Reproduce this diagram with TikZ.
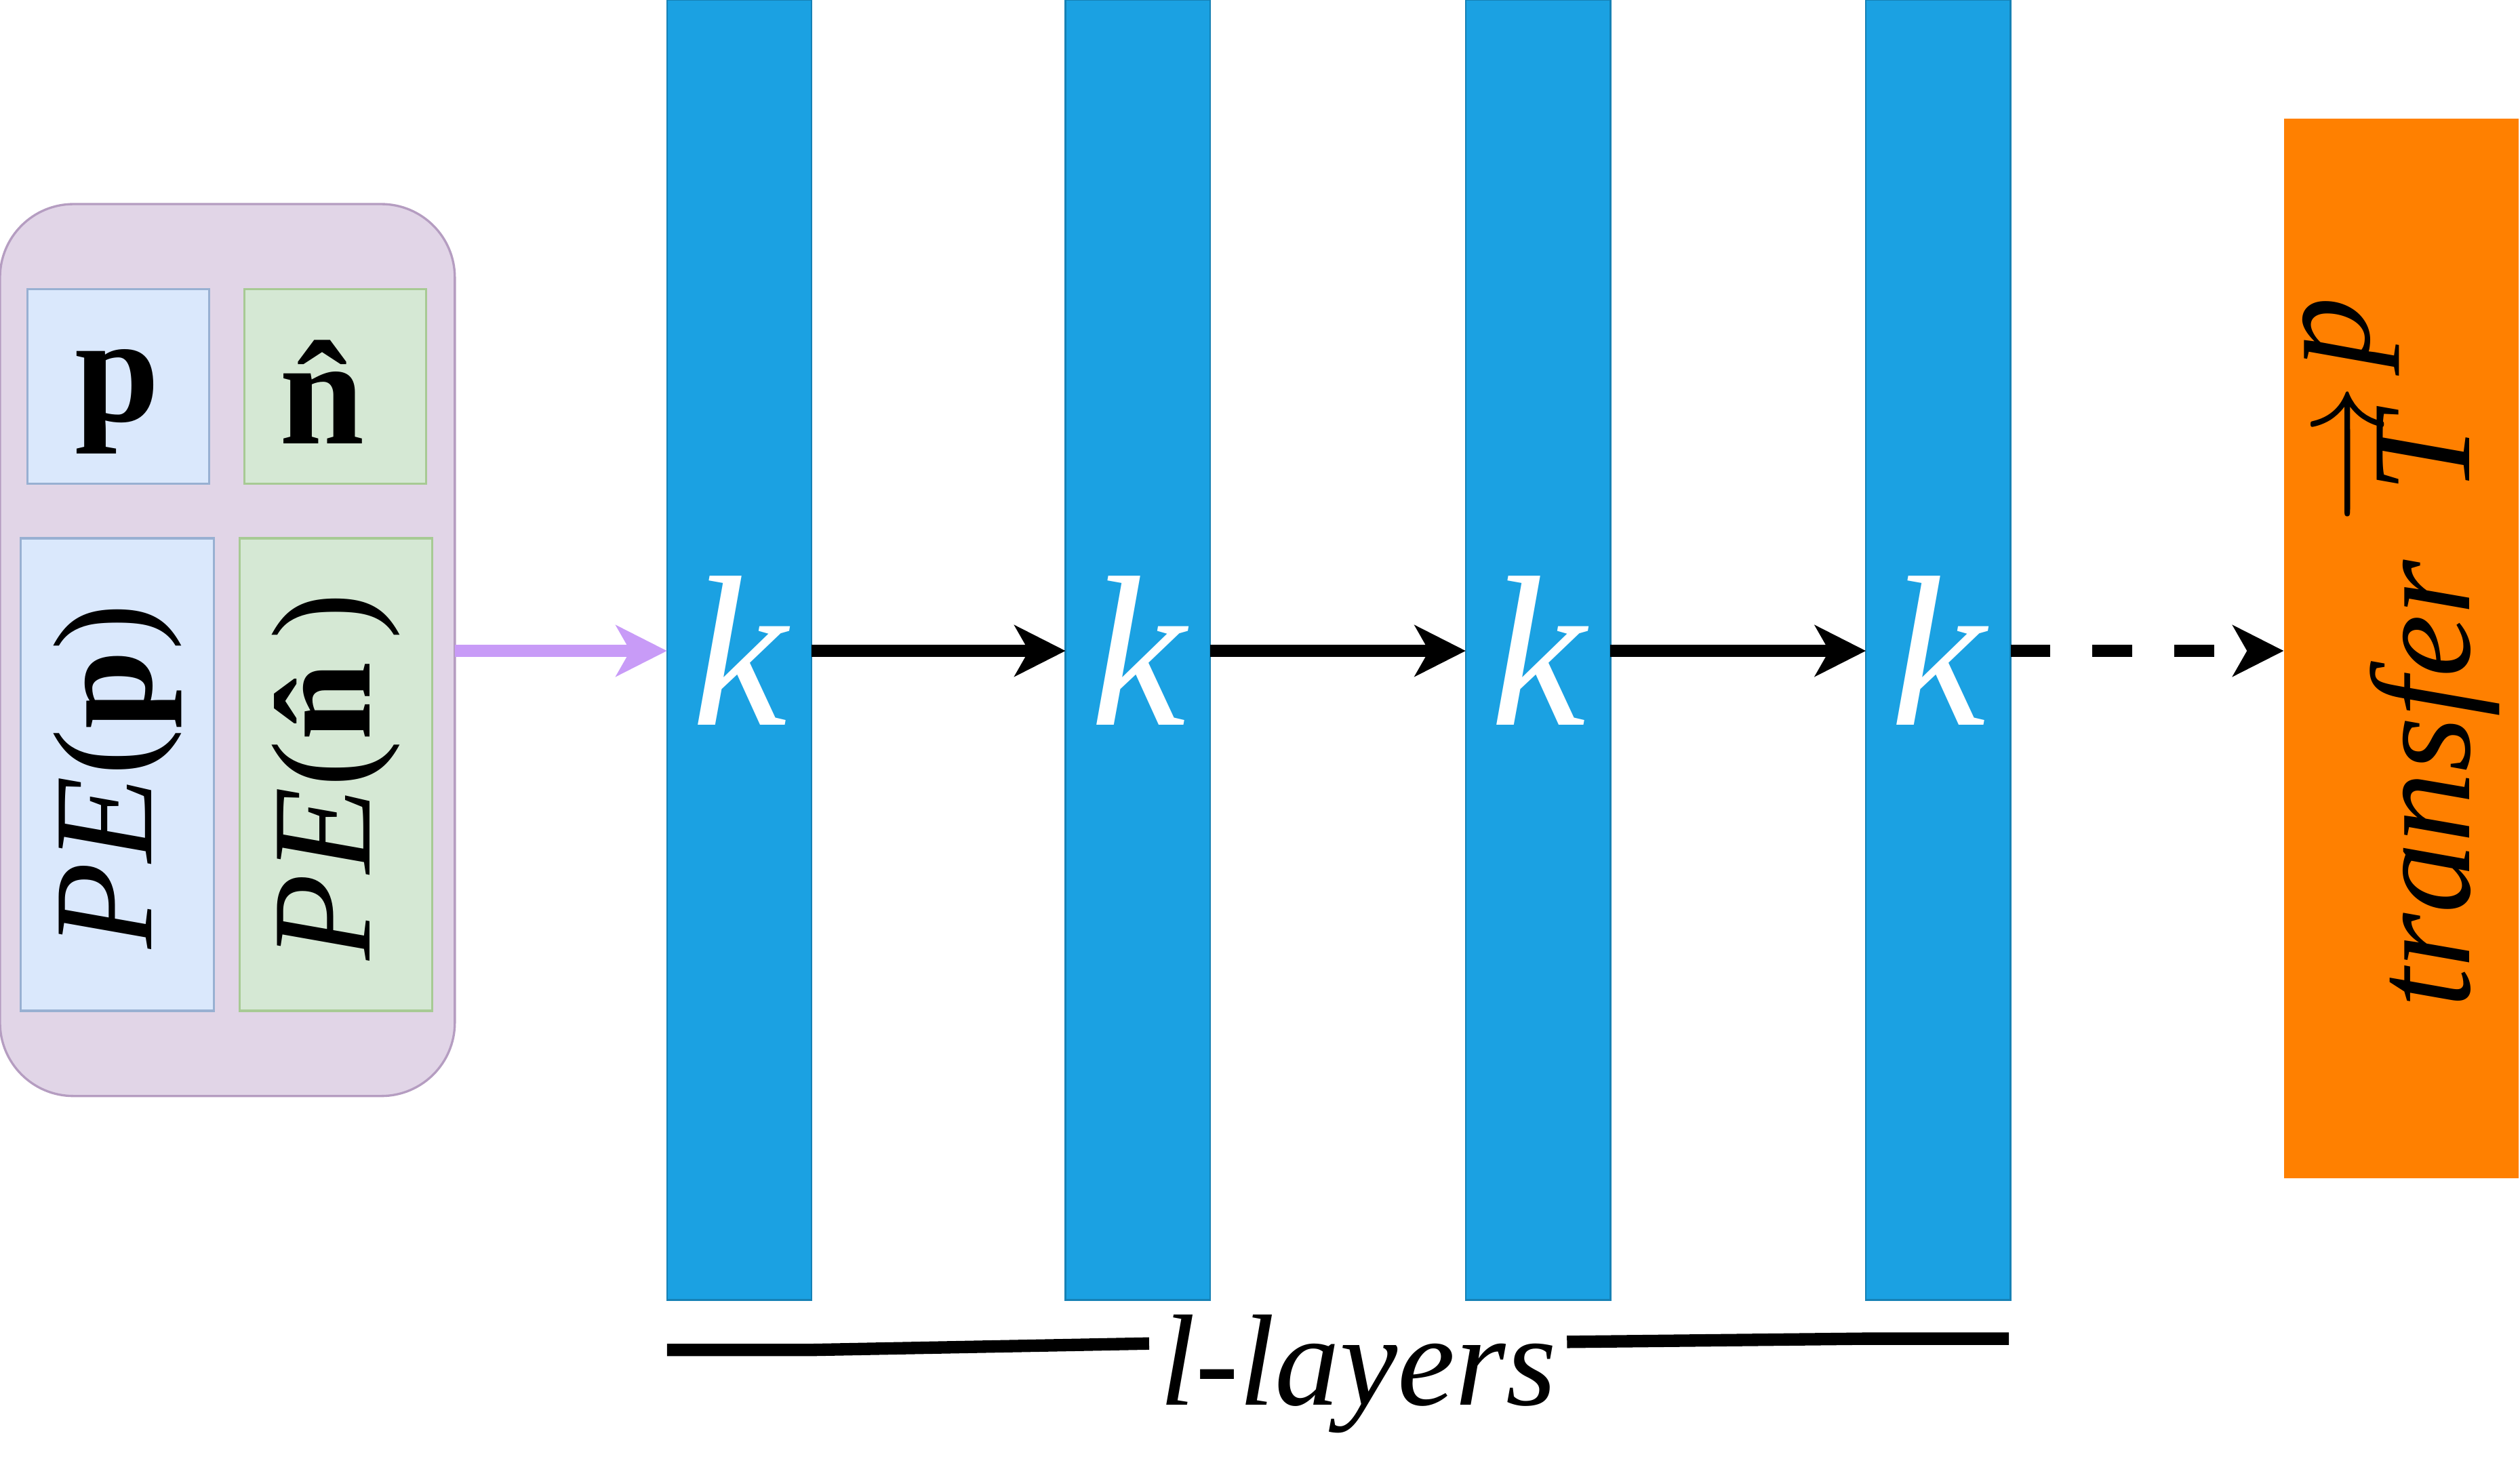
\documentclass[tikz,border=0pt]{standalone}
\usepackage{fontspec}
\setmainfont{Liberation Serif}
\usetikzlibrary{arrows.meta}
\definecolor{purbg}{HTML}{E1D5E7}
\definecolor{purln}{HTML}{9673A6}
\definecolor{bluebg}{HTML}{DAE8FC}
\definecolor{blueln}{HTML}{6C8EBF}
\definecolor{grnbg}{HTML}{D5E8D4}
\definecolor{grnln}{HTML}{82B366}
\definecolor{bar}{HTML}{1BA1E2}
\definecolor{orng}{HTML}{FF8000}
\definecolor{parrow}{HTML}{C89BF7}
\begin{document}
\begin{tikzpicture}[x=0.01cm,y=-0.01cm,
  layer/.style={fill=bar,draw=bar!80!black,line width=0.3pt},
  conn/.style={line width=2.2pt,-{Stealth[length=9pt,width=9pt,inset=2.5pt]}},
  ktext/.style={text=white,font=\fontsize{38}{42}\selectfont\itshape}]
\useasboundingbox (0,0) rectangle (1568,910);
\draw[fill=purbg,draw=purln!70,rounded corners=13pt] (0,127) rectangle (283,682);
\draw[fill=bluebg,draw=blueln!70] (17,180) rectangle (130,301);
\draw[fill=grnbg,draw=grnln!70] (152,180) rectangle (265,301);
\draw[fill=bluebg,draw=blueln!70] (13,335) rectangle (133,629);
\draw[fill=grnbg,draw=grnln!70] (149,335) rectangle (269,629);
\node (p) at (73,250) {\fontsize{27}{30}\selectfont\textbf{p}};
\node (n) at (208,244) {\fontsize{27}{30}\selectfont\textbf{\^{n}}};
\node[rotate=90] (pep) at (73,483) {\fontsize{25}{28}\selectfont\textit{PE}(\textbf{p})};
\node[rotate=90] (pen) at (209,483) {\fontsize{25}{28}\selectfont\textit{PE}(\textbf{\^{n}})};
\coordinate (inl) at (283,405);
\foreach \i/\x in {1/415,2/663,3/912,4/1161}{
  \draw[layer] (\x,0) rectangle (\x+90,809);
  \node[ktext] (k\i) at (\x+45,405) {k};
  \coordinate (L\i) at (\x,405);
  \coordinate (R\i) at (\x+90,405);
}
\fill[orng] (1421,74) rectangle (1567,733);
\coordinate (O) at (1421,405);
\node[rotate=90] (tr) at (1494,405) {\fontsize{25}{28}\selectfont\textit{transfer} $\overrightarrow{\textit{T}}^{\,\textit{p}}$};
\draw[conn,draw=parrow,fill=parrow] (inl) -- (L1);
\draw[conn] (R1) -- (L2);
\draw[conn] (R2) -- (L3);
\draw[conn] (R3) -- (L4);
\draw[conn,dash pattern=on 7pt off 7.5pt] (R4) -- (O);
\node (ll) at (845,855) {\fontsize{23}{26}\selectfont\textit{l-layers}};
\draw[line width=2.2pt] (415,840) -- (505,840) -- (715,836);
\draw[line width=2.2pt] (975,835) -- (1160,833) -- (1250,833);
\end{tikzpicture}
\end{document}
